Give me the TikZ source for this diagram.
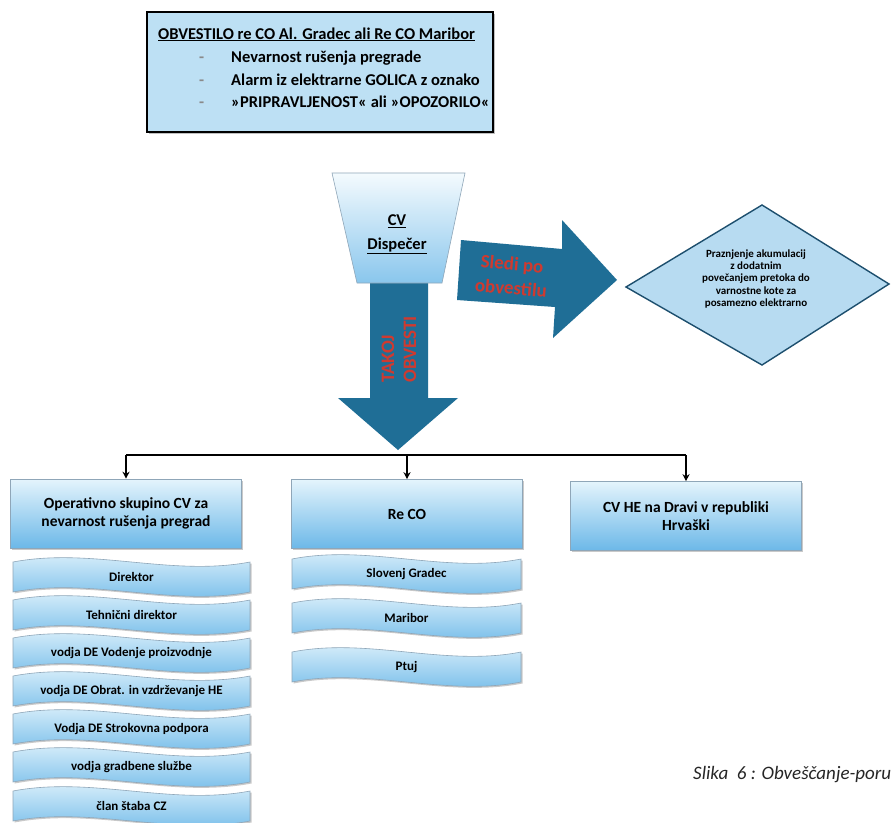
\documentclass[tikz,border=0pt]{standalone}
\usepackage{fontspec}
\setmainfont{Carlito}
\usetikzlibrary{arrows.meta,shadows}

\definecolor{noticefill}{HTML}{BDE0F4}
\definecolor{arrowblue}{HTML}{1F6E96}
\definecolor{alertred}{HTML}{CF3A30}
\definecolor{boxtop}{HTML}{E4F4FC}
\definecolor{boxbottom}{HTML}{6CB8E8}
\definecolor{boxline}{HTML}{8FA6B8}
\definecolor{diamondfill}{HTML}{B7DBF1}
\definecolor{diamondline}{HTML}{1D4F6E}
\definecolor{dashgray}{HTML}{8A8A8A}

% font size helper: size and line distance in pt
\newcommand\fsz[2]{\fontsize{#1}{#2}\selectfont}

% wavy band: name, left x, right x, centre y, text
\newcommand\wavebox[5]{%
  \shade[wave] ({#2},{#4-15}) .. controls ({#2+(#3-#2)/3},{#4-30}) and ({#2+2*(#3-#2)/3},{#4}) .. ({#3},{#4-15})
     -- ({#3},{#4+15}) .. controls ({#2+2*(#3-#2)/3},{#4+30}) and ({#2+(#3-#2)/3},{#4}) .. ({#2},{#4+15}) -- cycle;
  \node[wavetext] (#1) at ({(#2+#3)/2},{#4}) {#5};}

\tikzset{
  softshadow/.style={drop shadow={opacity=0.35, shadow xshift=1.5pt, shadow yshift=-1.5pt, fill=black!60}},
  wave/.style={top color=boxtop, bottom color=boxbottom, draw=boxline, line width=0.6pt, softshadow},
  wavetext/.style={font=\bfseries\fsz{13}{15}, text=black, inner sep=0pt},
  mainbox/.style={rectangle, top color=boxtop, bottom color=boxbottom, draw=boxline, line width=0.6pt,
    minimum width=231, minimum height=69, align=center, font=\bfseries\fsz{15.5}{17.5}, softshadow},
  redtext/.style={text=alertred, font=\bfseries\fsz{19}{22}, inner sep=0pt},
  notetext/.style={anchor=base west, font=\bfseries\fsz{16.5}{19}, inner sep=0pt},
  bus/.style={line width=1.8pt, black},
  busarrow/.style={bus, -{Stealth[length=7pt, width=7pt]}},
}

\begin{document}
\begin{tikzpicture}[x=1pt, y=-1pt]
\clip (0,0) rectangle (891,822);
\fill[white] (0,0) rectangle (891,822);

% notice box at the top
\node[rectangle, draw=black, line width=2.6pt, fill=noticefill, minimum width=346, minimum height=120,
      drop shadow={opacity=0.5, shadow xshift=2pt, shadow yshift=-2pt}] (notice) at (320,72) {};
\node[notetext] (title) at (158,39) {\underline{OBVESTILO re CO Al. Gradec ali Re CO Maribor}};
\node[notetext, text=dashgray] (d1) at (199,62) {-};
\node[notetext] (l1) at (231,62) {Nevarnost rušenja pregrade};
\node[notetext, text=dashgray] (d2) at (199,85) {-};
\node[notetext] (l2) at (231,85) {Alarm iz elektrarne GOLICA z oznako};
\node[notetext, text=dashgray] (d3) at (199,107) {-};
\node[notetext] (l3) at (231,107) {»PRIPRAVLJENOST« ali »OPOZORILO«};

% big downward arrow
\fill[arrowblue] (370,283) -- (428,283) -- (428,398) -- (458,398) -- (398,450) -- (338,398) -- (370,398) -- cycle;
\node[redtext, rotate=90, anchor=west, align=left] (takoj) at (399,383) {TAKOJ\\OBVESTI};

% big arrow to the right
\fill[arrowblue] (461,240) -- (562,249) -- (562,220) -- (617,280) -- (553,338) -- (555,307) -- (457,300) -- cycle;
\node[redtext, rotate=-5] (sledi) at (512,265) {Sledi po};
\node[redtext, rotate=-5] (obv) at (511,288) {obvestilu};

% dispatcher trapezoid
\shade[top color=white!60!boxtop, bottom color=boxbottom!80!white, draw=boxline, line width=0.6pt]
  (332,173) -- (465,173) -- (442,283) -- (357,283) -- cycle;
\node[font=\bfseries\fsz{16.5}{19}, inner sep=0pt] (cv) at (397,221) {\underline{CV}};
\node[font=\bfseries\fsz{16.5}{19}, inner sep=0pt] (disp) at (397,246) {\underline{Dispečer}};

% decision diamond
\draw[fill=diamondfill, draw=diamondline, line width=1.4pt, line join=miter]
  (626,287) -- (762,205) -- (889,284) -- (762,365) -- cycle;
\node[align=center, font=\bfseries\fsz{11}{12.2}, inner sep=0pt] (drain) at (756,279)
  {Praznjenje akumulacij\\z dodatnim\\povečanjem pretoka do\\varnostne kote za\\posamezno elektrarno};

% receiving units
\node[mainbox] (ops) at (126,513.5) {Operativno skupino CV za\\nevarnost rušenja pregrad};
\node[mainbox] (reco) at (407,514) {Re CO};
\node[mainbox] (hr) at (686,516) {CV HE na Dravi v republiki\\Hrvaški};

% distribution line with arrows
\coordinate (busy) at (0,455);
\draw[bus] (ops.north |- busy) -- (hr.north |- busy);
\draw[busarrow] (ops.north |- busy) -- (ops.north);
\draw[busarrow] (reco.north |- busy) -- (reco.north);
\draw[busarrow] (hr.north |- busy) -- (hr.north);

% members of the operative group
\wavebox{m1}{13}{250}{577}{Direktor}
\wavebox{m2}{13}{250}{615}{Tehnični direktor}
\wavebox{m3}{13}{250}{653}{vodja DE Vodenje proizvodnje}
\wavebox{m4}{13}{250}{691}{vodja DE Obrat. in vzdrževanje HE}
\wavebox{m5}{13}{250}{729}{Vodja DE Strokovna podpora}
\wavebox{m6}{13}{250}{767}{vodja gradbene službe}
\wavebox{m7}{13}{250}{806}{član štaba CZ}

% regional civil protection offices
\wavebox{r1}{292}{521}{574}{Slovenj Gradec}
\wavebox{r2}{292}{521}{618}{Maribor}
\wavebox{r3}{292}{521}{667}{Ptuj}

% figure caption
\node[anchor=base west, font=\itshape\fsz{19}{23}, text=black!85, inner sep=0pt] (caption) at (693,779)
  {Slika\ \ 6 : Obveščanje-poru};
\end{tikzpicture}
\end{document}
